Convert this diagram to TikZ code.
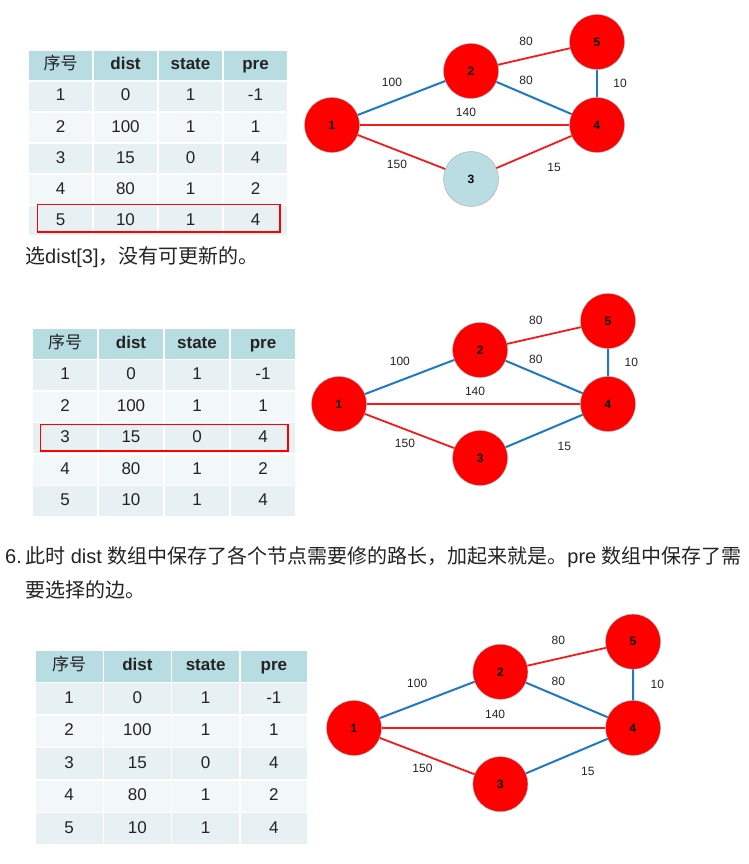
\documentclass[tikz,border=0pt]{standalone}
\usepackage{fontspec}
\setmainfont{Liberation Sans}
\newfontfamily\cjk{Noto Sans CJK SC}
\usetikzlibrary{calc}
\definecolor{tabHead}{RGB}{183,221,226}
\definecolor{tabRowA}{RGB}{231,241,243}
\definecolor{tabRowB}{RGB}{242,247,249}
\definecolor{vertexRed}{RGB}{255,0,0}
\definecolor{vertexBlue}{RGB}{185,221,226}
\definecolor{edgeRed}{RGB}{245,25,25}
\definecolor{edgeBlue}{RGB}{30,120,200}
\definecolor{textGray}{RGB}{35,35,35}

\begin{document}
\begin{tikzpicture}[
  x=1pt, y=-1pt,
  cell/.style={
    draw=white,
    line width=1.5pt,
    inner sep=0pt,
    text height=12.5pt,
    text depth=3.5pt,
    font=\fontsize{17}{17}\selectfont,
    text=textGray
  },
  vertex/.style={
    circle,
    draw=gray!70,
    fill=vertexRed,
    minimum size=55pt,
    inner sep=0pt,
    font=\fontsize{12}{12}\selectfont\bfseries
  },
  redline/.style={edgeRed,line width=1.8pt},
  blueline/.style={edgeBlue,line width=2pt},
  weight/.style={font=\fontsize{12}{12}\selectfont,text=textGray},
  pick/.style={draw=red,line width=1.5pt},
  para/.style={anchor=west,inner sep=0pt,font=\fontsize{20}{20}\selectfont,text=textGray}
]
  \useasboundingbox (0,0) rectangle (748,864);

  % the three dist tables
  \foreach \t/\x/\y/\w/\h in {t1/28/50/65/31, t2/32/328/66/31.5, t3/35/650/68.25/32.5}{
    \begin{scope}[shift={(\x,\y)}]
      \foreach \c/\lab in {1/{\cjk 序号}, 2/\textbf{dist}, 3/\textbf{state}, 4/\textbf{pre}}
        \node[cell,fill=tabHead,minimum width=\w*1pt,minimum height=\h*1pt] (\t-0-\c) at ({(\c-0.5)*\w},{0.5*\h}) {\lab};
      \foreach \r/\a/\b/\s/\p/\fl in {1/1/0/1/-1/tabRowA, 2/2/100/1/1/tabRowB, 3/3/15/0/4/tabRowA, 4/4/80/1/2/tabRowB, 5/5/10/1/4/tabRowA}{
        \node[cell,fill=\fl,minimum width=\w*1pt,minimum height=\h*1pt] (\t-\r-1) at ({0.5*\w},{(\r+0.5)*\h}) {\a};
        \node[cell,fill=\fl,minimum width=\w*1pt,minimum height=\h*1pt] (\t-\r-2) at ({1.5*\w},{(\r+0.5)*\h}) {\b};
        \node[cell,fill=\fl,minimum width=\w*1pt,minimum height=\h*1pt] (\t-\r-3) at ({2.5*\w},{(\r+0.5)*\h}) {\s};
        \node[cell,fill=\fl,minimum width=\w*1pt,minimum height=\h*1pt] (\t-\r-4) at ({3.5*\w},{(\r+0.5)*\h}) {\p};
      }
    \end{scope}
  }
  \draw[pick] ($(t1-5-1.north west)+(10,0)$) rectangle ($(t1-5-4.south east)+(-9,-5)$);
  \draw[pick] ($(t2-3-1.north west)+(9,2.5)$) rectangle ($(t2-3-4.south east)+(-9,-4)$);

  % the three graphs
  \foreach \g/\x/\y/\sx/\sy/\thr/\tfour in {a/332/125/1/1/vertexBlue/redline, b/339/404/1.015/1/vertexRed/blueline, c/354/728/1.053/1.04/vertexRed/blueline}{
    \begin{scope}[shift={(\x,\y)},xscale=\sx,yscale=\sy]
      \node[vertex] (\g1) at (0,0) {1};
      \node[vertex] (\g2) at (139,-54) {2};
      \node[vertex,fill=\thr] (\g3) at (139,54) {3};
      \node[vertex] (\g4) at (265,0) {4};
      \node[vertex] (\g5) at (265,-83) {5};
      \draw[blueline] (\g1) -- (\g2);
      \draw[redline] (\g2) -- (\g5);
      \draw[blueline] (\g2) -- (\g4);
      \draw[blueline] (\g5) -- (\g4);
      \draw[redline] (\g1) -- (\g4);
      \draw[redline] (\g1) -- (\g3);
      \draw[\tfour] (\g3) -- (\g4);
      \node[weight] at (60,-43) {100};
      \node[weight] at (194,-84) {80};
      \node[weight] at (194,-45) {80};
      \node[weight] at (288,-42) {10};
      \node[weight] at (134,-13) {140};
      \node[weight] at (65,39) {150};
      \node[weight] at (222,42) {15};
    \end{scope}
  }

  % text lines
  \node[para] (pick3) at (25,257) {{\cjk 选}dist[3]{\cjk ，没有可更新的。}};
  \node[para] (num6) at (5,557) {6.};
  \node[para] (line1) at (25,557) {{\cjk 此时} dist {\cjk 数组中保存了各个节点需要修的路长，加起来就是。}pre {\cjk 数组中保存了需}};
  \node[para] (line2) at (25,590) {{\cjk 要选择的边。}};
\end{tikzpicture}
\end{document}
